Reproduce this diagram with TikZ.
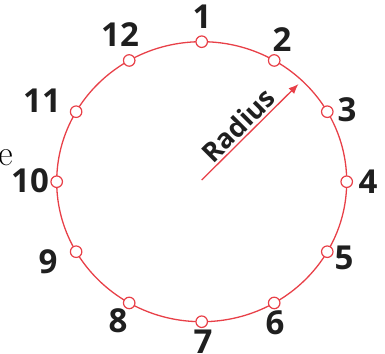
\documentclass[tikz,border=0pt]{standalone}
\usepackage{fontspec}
\setsansfont{Open Sans}
\newfontfamily\lblfont{Open Sans}
\usetikzlibrary{arrows.meta,calc}
\definecolor{ringred}{RGB}{232,64,72}
\newcommand\numfont{\lblfont\bfseries\fontsize{33}{33}\selectfont}
\newcommand\radfont{\lblfont\bfseries\fontsize{27}{27}\selectfont}
\newcommand\efont{\fontsize{36}{36}\selectfont}
\begin{document}
\begin{tikzpicture}[x=1pt,y=-1pt,
  ring/.style={draw=ringred, line width=1.3pt},
  dot/.style={circle, draw=ringred, fill=white, line width=1.2pt, minimum size=11.5pt, inner sep=0pt},
  num/.style={font=\numfont, text=black!88, inner sep=0pt},
  radarrow/.style={draw=ringred, line width=1.3pt, -{Latex[length=10pt,width=8pt]}}]
\useasboundingbox (0,0) rectangle (385,353);
\coordinate (c) at (201.7,181.7);
\draw[ring] (c) ellipse [x radius=145, y radius=140];
\foreach \i in {1,...,12} {
  \pgfmathsetmacro{\ang}{90-30*\i}
  \node[dot] (p\i) at ($(c)+({145*cos(\ang)},{-140*sin(\ang)})$) {};
}
\node[num] (l1) at (202,17) {1};
\node[num] (l2) at (282,40) {2};
\node[num] (l3) at (347,110) {3};
\node[num] (l4) at (368,182) {4};
\node[num] (l5) at (344,258) {5};
\node[num] (l6) at (275,323) {6};
\node[num] (l7) at (203,342) {7};
\node[num] (l8) at (118,321) {8};
\node[num] (l9) at (48,262) {9};
\node[num] (l10) at (30,181) {10};
\node[num] (l11) at (42,101) {11};
\node[num] (l12) at (120,35) {12};
\coordinate (a0) at (201.7,180);
\coordinate (a1) at (298.5,84);
\draw[radarrow] (a0) -- (a1);
\node[font=\radfont, text=black!88, rotate=45, inner sep=0pt] (rad) at (238,125) {Radius};
\node[font=\efont, inner sep=0pt] (e) at (6,158) {e};
\end{tikzpicture}
\end{document}
